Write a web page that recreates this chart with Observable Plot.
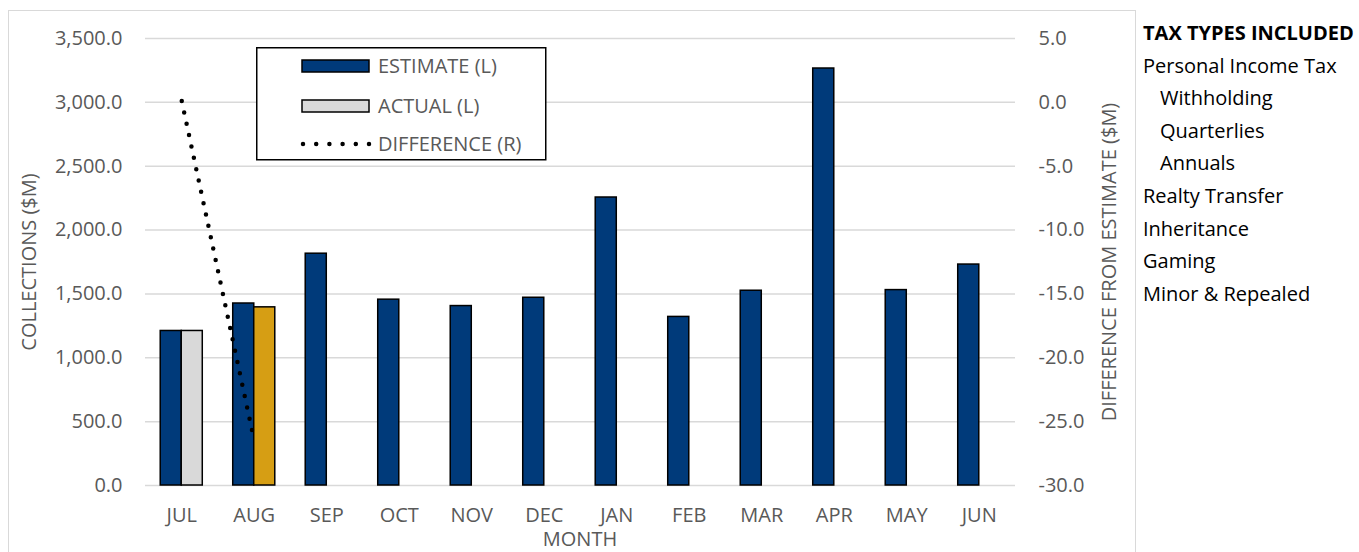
<!DOCTYPE html>
<html><head><meta charset="utf-8">
<script src="https://cdn.jsdelivr.net/npm/d3@7"></script>
<script src="https://cdn.jsdelivr.net/npm/@observablehq/plot@0.6"></script>
<style>
body{margin:0;background:#fff;font-family:"Open Sans",Lato,sans-serif;}
#wrap{position:relative;width:1359px;height:552px;overflow:hidden;}
#frame{position:absolute;left:8px;top:10px;width:1128px;height:570px;border:1.5px solid #d9d9d9;box-sizing:border-box;}
#chart{position:absolute;left:0;top:0;}
.ttl{position:absolute;color:#595959;font-size:20px;white-space:nowrap;}
#legend{position:absolute;left:256px;top:47px;}
#side{position:absolute;left:1143px;top:17px;font-size:20px;line-height:32.6px;color:#000;}
#side .ind{padding-left:17px;}
</style></head>
<body>
<div id="wrap">
  <div id="frame"></div>
  <div id="chart"></div>
  <div class="ttl" id="ytl" style="left:28px;top:262px;transform:translate(-50%,-50%) rotate(-90deg);">COLLECTIONS ($M)</div>
  <div class="ttl" id="ytr" style="left:1108px;top:262px;transform:translate(-50%,-50%) rotate(-90deg);">DIFFERENCE FROM ESTIMATE ($M)</div>
  <div class="ttl" id="xt" style="left:580px;top:538px;transform:translate(-50%,-50%);">MONTH</div>
  <div id="legend"></div>
  <div id="side"></div>
</div>
<script>
const months = ["JUL","AUG","SEP","OCT","NOV","DEC","JAN","FEB","MAR","APR","MAY","JUN"];
const estimate = [1210,1425,1815,1455,1405,1470,2255,1320,1525,3265,1530,1730];
const actual = [1210,1395];
const difference = [0.1,-26.5];
const leftTicks = [0,500,1000,1500,2000,2500,3000,3500];
const rightTicks = [-30,-25,-20,-15,-10,-5,0,5];
const taxTypes = ["Personal Income Tax","Withholding","Quarterlies","Annuals","Realty Transfer","Inheritance","Gaming","Minor & Repealed"];
const taxIndent = [false,true,true,true,false,false,false,false];
const seriesNames = ["ESTIMATE (L)","ACTUAL (L)","DIFFERENCE (R)"];

const colEst = "#003a7a", colActPrev = "#d9d9d9", colActCur = "#d69e14";
const FONT = "'Open Sans', Lato, sans-serif";

// map right axis (diff) onto left scale: [-30,5] -> [0,3500]
const rMin = -30, rMax = 5, lMax = 3500;
const toLeft = v => (v - rMin) / (rMax - rMin) * lMax;

const estData = months.map((m,i)=>({month:m, value:estimate[i]}));
const actData = actual.map((v,i)=>({month:months[i], value:v, last: i===actual.length-1}));
const diffData = difference.map((v,i)=>({month:months[i], value:v}));

const plot = Plot.plot({
  width:1359, height:552,
  marginLeft:145, marginRight:344, marginTop:38, marginBottom:67,
  style:{fontFamily:FONT, fontSize:"20px", background:"transparent", overflow:"visible"},
  x:{domain:months, paddingInner:0.42, paddingOuter:0.21, round:false},
  y:{domain:[0,lMax]},
  marks:[
    Plot.gridY(leftTicks, {stroke:"#d9d9d9", strokeOpacity:1, strokeWidth:1.5}),
    Plot.axisY(leftTicks, {tickSize:0, tickPadding:23, tickFormat:d3.format(",.1f"), color:"#595959", label:null, fontSize:20}),
    Plot.axisY(rightTicks.map(toLeft), {anchor:"right", tickSize:0, tickPadding:23, tickFormat:v=>(v/lMax*(rMax-rMin)+rMin).toFixed(1), color:"#595959", label:null, fontSize:20}),
    Plot.axisX({tickSize:0, tickPadding:22, color:"#595959", label:null, fontSize:20}),
    Plot.barY(estData, {x:"month", y:"value", fill:colEst, stroke:"#000", strokeWidth:1.5, insetRight:21}),
    Plot.barY(actData, {x:"month", y:"value", fill:d=>d.last?colActCur:colActPrev, stroke:"#000", strokeWidth:1.5, insetLeft:21}),
    Plot.lineY(diffData, {x:"month", y:d=>toLeft(d.value), stroke:"#000", strokeWidth:4.5, strokeDasharray:"0 11.6", strokeLinecap:"round"})
  ]
});
document.getElementById("chart").appendChild(plot);

// legend
const lg = d3.select("#legend").append("svg").attr("width",292).attr("height",115);
lg.append("rect").attr("x",0.75).attr("y",0.75).attr("width",289).attr("height",112).attr("fill","#fff").attr("stroke","#000").attr("stroke-width",1.5);
const rowsY = [19,59,97];
lg.append("rect").attr("x",46).attr("y",rowsY[0]-6).attr("width",67).attr("height",12).attr("fill",colEst).attr("stroke","#000").attr("stroke-width",1.5);
lg.append("rect").attr("x",46).attr("y",rowsY[1]-6).attr("width",67).attr("height",12).attr("fill",colActPrev).attr("stroke","#000").attr("stroke-width",1.5);
lg.append("line").attr("x1",47).attr("x2",113).attr("y1",rowsY[2]).attr("y2",rowsY[2]).attr("stroke","#000").attr("stroke-width",4.5).attr("stroke-dasharray","0 13.2").attr("stroke-linecap","round");
seriesNames.forEach((s,i)=>{
  lg.append("text").attr("x",122).attr("y",rowsY[i]).attr("dy","0.35em").attr("fill","#595959").attr("font-size",20).attr("font-family",FONT).text(s);
});

// side list
const side = d3.select("#side");
side.append("div").style("font-weight","bold").text("TAX TYPES INCLUDED");
taxTypes.forEach((t,i)=>{
  side.append("div").attr("class", taxIndent[i]?"ind":null).text(t);
});
</script>
</body></html>
